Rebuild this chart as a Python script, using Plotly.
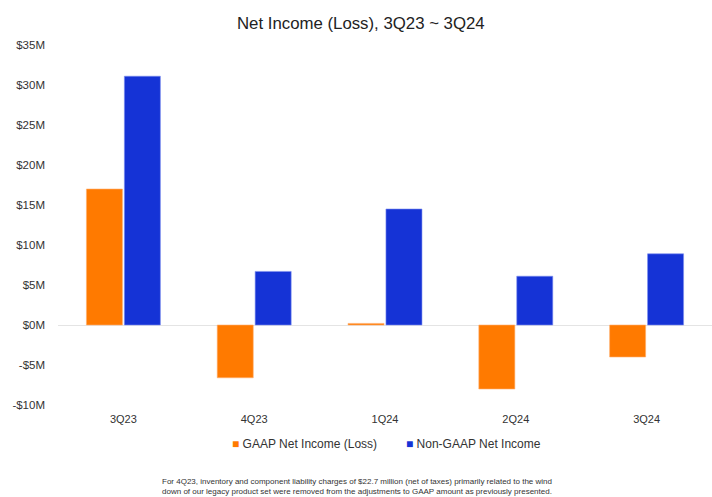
import plotly.graph_objects as go

# Quarterly net income, $M
quarters = ["3Q23", "4Q23", "1Q24", "2Q24", "3Q24"]
gaap_net_income = [17.0, -6.6, 0.2, -8.0, -4.0]
non_gaap_net_income = [31.1, 6.7, 14.5, 6.1, 8.9]
y_ticks = [-10, -5, 0, 5, 10, 15, 20, 25, 30, 35]
y_tick_labels = [f"-${-v}M" if v < 0 else f"${v}M" for v in y_ticks]

ORANGE = "#FF7A00"
BLUE = "#1533D6"
FONT = "Liberation Sans, Arial, sans-serif"

fig = go.Figure()
fig.add_trace(go.Bar(
    x=quarters, y=gaap_net_income, name="GAAP Net Income (Loss)",
    marker=dict(color=ORANGE, line=dict(width=0.6, color="#FFB070")),
))
fig.add_trace(go.Bar(
    x=quarters, y=non_gaap_net_income, name="Non-GAAP Net Income",
    marker=dict(color=BLUE, line=dict(width=0.6, color="#7D8FF0")),
))

fig.update_layout(
    width=712, height=497,
    margin=dict(l=58, r=0, t=45, b=92),
    paper_bgcolor="white", plot_bgcolor="white",
    font=dict(family=FONT, color="#333333"),
    barmode="group", bargap=0.42, bargroupgap=0.05,
    showlegend=False,
    xaxis=dict(showgrid=False, showline=False, ticks="", ticklabelstandoff=6,
               tickfont=dict(size=11, color="#333333")),
    yaxis=dict(
        range=[-10, 35], tickvals=y_ticks, ticktext=y_tick_labels,
        showgrid=False, zeroline=True, zerolinecolor="#E4E4E4", zerolinewidth=1,
        tickfont=dict(size=11.5, color="#333333"), ticklabelstandoff=12,
    ),
)

# title, legend and footnote as text
fig.add_annotation(
    text="Net Income (Loss), 3Q23 ~ 3Q24", xref="paper", yref="paper",
    x=(361 - 58) / 654, y=1 + (45 - 24) / 360, xanchor="center", yanchor="middle",
    showarrow=False, font=dict(size=16.8, color="#222222"),
)
fig.add_annotation(
    text=f"<span style='color:{ORANGE}'>■</span> GAAP Net Income (Loss)",
    xref="paper", yref="paper", x=(230 - 58) / 654, y=-(444 - 405) / 360,
    xanchor="left", yanchor="middle", showarrow=False, font=dict(size=12, color="#333333"),
)
fig.add_annotation(
    text=f"<span style='color:{BLUE}'>■</span> Non-GAAP Net Income",
    xref="paper", yref="paper", x=(404 - 58) / 654, y=-(444 - 405) / 360,
    xanchor="left", yanchor="middle", showarrow=False, font=dict(size=12, color="#333333"),
)
fig.add_annotation(
    text="For 4Q23, inventory and component liability charges of $22.7 million (net of taxes) primarily related to the wind<br>"
         "down of our legacy product set were removed from the adjustments to GAAP amount as previously presented.",
    xref="paper", yref="paper", x=(357 - 58) / 654, y=-(486.5 - 405) / 360,
    xanchor="center", yanchor="middle", showarrow=False, align="center",
    font=dict(size=8, color="#333333"),
)

# drop the default page margin so the figure sits at the window's corner
fig.write_html("out.html", config={"displayModeBar": False},
               post_script="document.body.style.margin='0';")
